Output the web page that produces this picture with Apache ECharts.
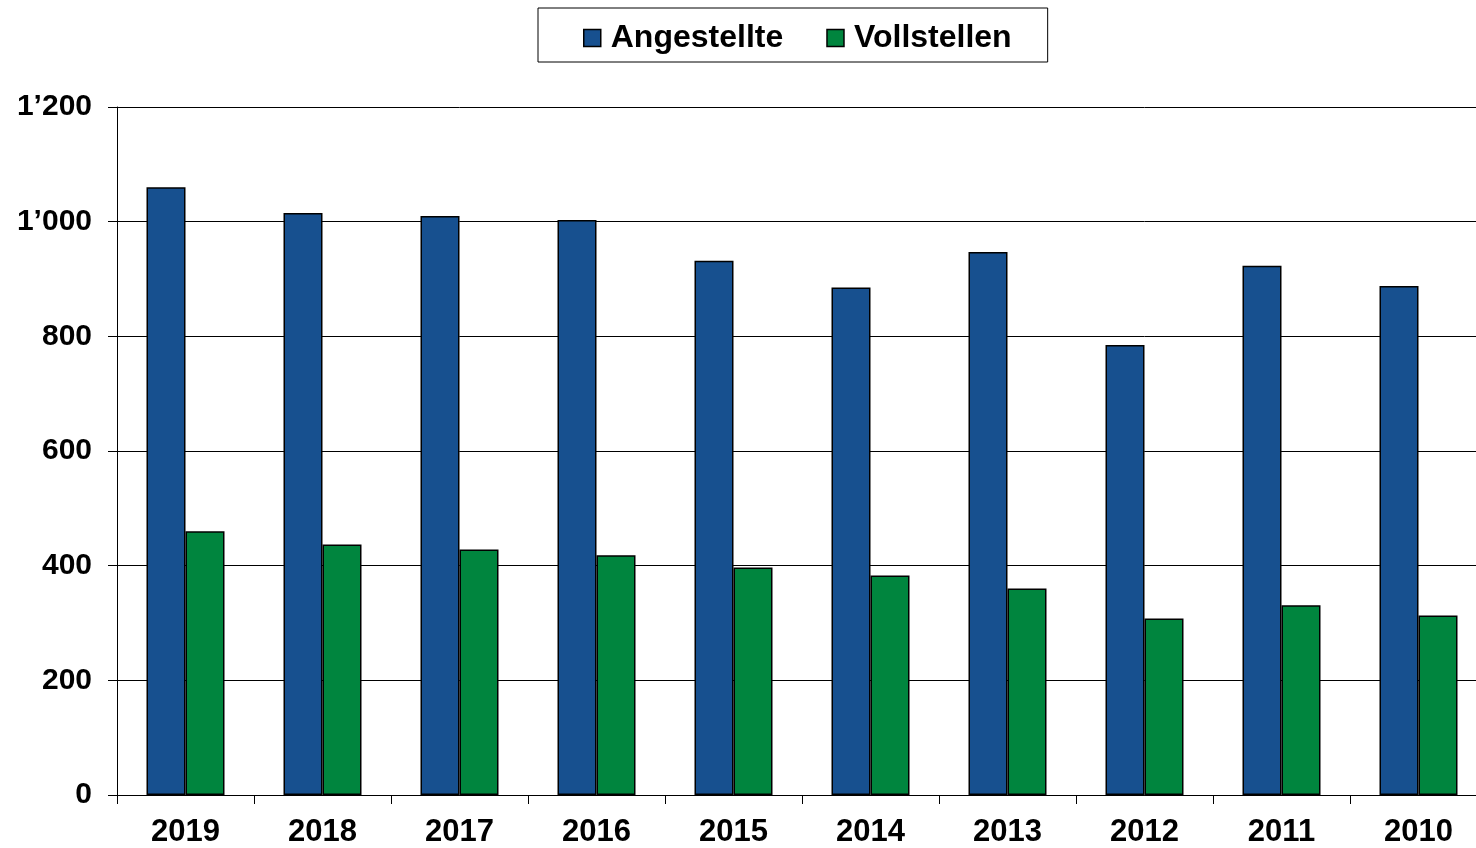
<!DOCTYPE html>
<html><head><meta charset="utf-8">
<script src="https://cdn.jsdelivr.net/npm/echarts@6/dist/echarts.min.js"></script>
<style>html,body{margin:0;padding:0;background:#fff;overflow:hidden}#c{width:1487px;height:848px}</style>
</head><body><div id="c"></div>
<script>
const categories = ['2019','2018','2017','2016','2015','2014','2013','2012','2011','2010'];
const angestellte = [1060, 1015, 1010, 1003, 932, 885, 947, 785, 923, 888];
const vollstellen = [460, 437, 428, 418, 397, 383, 360, 308, 331, 313];
const yTicks = [0, 200, 400, 600, 800, 1000, 1200];

const chart = echarts.init(document.getElementById('c'));
const font = 'Liberation Sans, Arial, sans-serif';
function fmt(v){ const s = String(v); return s.length > 3 ? s.slice(0, s.length-3) + '\u2019' + s.slice(-3) : s; }
chart.setOption({
  animation: false,
  textStyle: { fontFamily: font },
  legend: {
    left: 538, top: 8,
    padding: [14, 36, 8, 45],
    itemGap: 43,
    itemWidth: 17, itemHeight: 17,
    borderColor: '#000', borderWidth: 1, backgroundColor: '#fff',
    textStyle: { fontFamily: font, fontWeight: 'bold', fontSize: 32, color: '#000', padding: [0,0,0,5] },
    data: [
      { name: 'Angestellte', icon: 'rect', itemStyle: { borderColor: '#000', borderWidth: 1.5 } },
      { name: 'Vollstellen', icon: 'rect', itemStyle: { borderColor: '#000', borderWidth: 1.5 } }
    ]
  },
  grid: { left: 117, top: 107, right: 0, bottom: 52, containLabel: false },
  xAxis: {
    type: 'category', data: categories,
    axisLine: { lineStyle: { color: '#000', width: 1 } },
    axisTick: { show: true, length: 9, lineStyle: { color: '#000' }, alignWithLabel: false },
    axisLabel: { color: '#000', fontWeight: 'bold', fontSize: 31, fontFamily: font, margin: 22 }
  },
  yAxis: {
    type: 'value', min: 0, max: 1200, interval: 200,
    axisLine: { show: true, lineStyle: { color: '#000', width: 1 } },
    axisTick: { show: true, length: 9, lineStyle: { color: '#000' } },
    splitLine: { show: true, lineStyle: { color: '#000', width: 1 } },
    axisLabel: { color: '#000', fontWeight: 'bold', fontSize: 30, fontFamily: font, margin: 25,
      padding: [6, 0, 0, 0],
      formatter: v => yTicks.includes(v) ? fmt(v) : '' }
  },
  series: [
    { name: 'Angestellte', type: 'bar', data: angestellte, barWidth: 39, barGap: '0%',
      itemStyle: { color: '#17508F', borderColor: '#000', borderWidth: 1.5 } },
    { name: 'Vollstellen', type: 'bar', data: vollstellen, barWidth: 39, barGap: '0%',
      itemStyle: { color: '#00853E', borderColor: '#000', borderWidth: 1.5 } }
  ]
});
</script></body></html>
